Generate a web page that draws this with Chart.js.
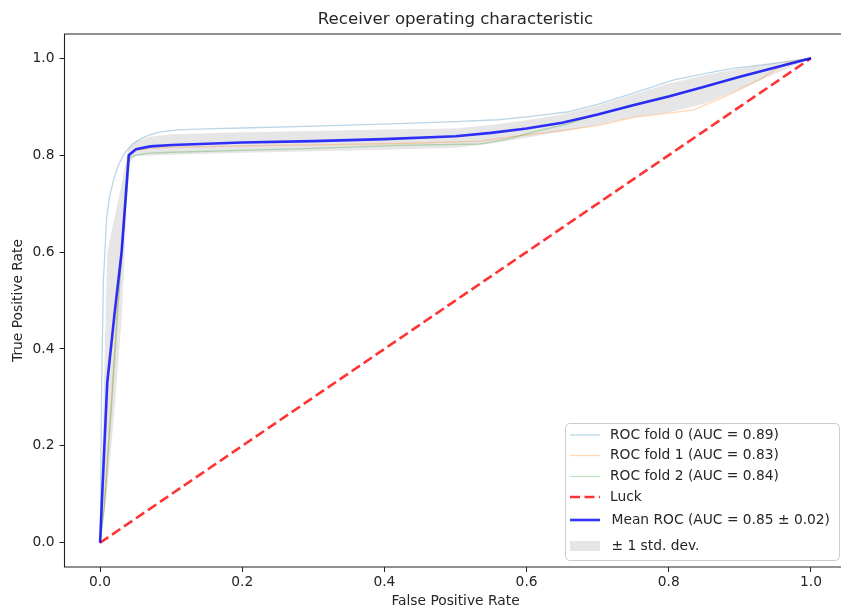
<!DOCTYPE html>
<html>
<head>
<meta charset="utf-8">
<script src="https://cdn.jsdelivr.net/npm/chart.js@4.4.0/dist/chart.umd.min.js"></script>
<style>
  html, body { margin: 0; padding: 0; background: #fff; overflow: hidden; }
  #wrap { width: 841px; height: 609px; overflow: hidden; position: relative; }
  #roc-chart { position: absolute; left: 0; top: 0; }
</style>
</head>
<body>
<div id="wrap"><canvas id="roc-chart" width="850" height="609"></canvas></div>
<script>
// tick labels
const tickValues = [0, 0.2, 0.4, 0.6, 0.8, 1.0];

// per fold ROC curves
const fold0Fpr = [0, 0.001, 0.002, 0.0047, 0.0094, 0.0135, 0.019, 0.026, 0.035, 0.045, 0.056, 0.07, 0.085, 0.108, 0.15, 0.2, 0.3, 0.42, 0.5, 0.56, 0.6, 0.657, 0.7, 0.75, 0.806, 0.85, 0.89, 0.94, 1];
const fold0Tpr = [0, 0.12, 0.30, 0.54, 0.673, 0.715, 0.749, 0.78, 0.805, 0.822, 0.833, 0.842, 0.848, 0.852, 0.854, 0.856, 0.86, 0.865, 0.869, 0.873, 0.879, 0.889, 0.905, 0.928, 0.955, 0.968, 0.979, 0.988, 1];

const fold1Fpr = [0, 0.006, 0.017, 0.025, 0.033, 0.04, 0.05, 0.07, 0.1, 0.2, 0.3, 0.42, 0.534, 0.6, 0.657, 0.703, 0.75, 0.834, 0.89, 0.93, 0.965, 1];
const fold1Tpr = [0, 0.08, 0.32, 0.5, 0.65, 0.80, 0.81, 0.814, 0.816, 0.819, 0.821, 0.824, 0.829, 0.842, 0.852, 0.862, 0.878, 0.893, 0.928, 0.958, 0.99, 1];

const fold2Fpr = [0, 0.006, 0.017, 0.026, 0.034, 0.042, 0.05, 0.07, 0.1, 0.2, 0.3, 0.42, 0.534, 0.57, 0.61, 0.657, 0.7, 0.75, 0.834, 0.9, 0.95, 1];
const fold2Tpr = [0, 0.07, 0.30, 0.5, 0.66, 0.795, 0.80, 0.804, 0.806, 0.81, 0.814, 0.82, 0.823, 0.832, 0.848, 0.864, 0.884, 0.905, 0.935, 0.962, 0.982, 1];

// mean curve and +/- 1 std band on the common grid
const meanFpr = [0, 0.0101, 0.0202, 0.0303, 0.0404, 0.0505, 0.0707, 0.101, 0.2, 0.3, 0.4, 0.5, 0.55, 0.6, 0.65, 0.7, 0.75, 0.8, 0.85, 0.9, 0.95, 1];
const meanTpr = [0, 0.33, 0.47, 0.60, 0.80, 0.812, 0.818, 0.821, 0.826, 0.829, 0.833, 0.839, 0.846, 0.855, 0.867, 0.884, 0.903, 0.921, 0.941, 0.962, 0.981, 1];
const stdUpper = [0, 0.60, 0.67, 0.74, 0.815, 0.828, 0.838, 0.843, 0.847, 0.850, 0.853, 0.855, 0.862, 0.872, 0.884, 0.902, 0.925, 0.948, 0.965, 0.979, 0.99, 1];
const stdLower = [0, 0.11, 0.27, 0.46, 0.785, 0.798, 0.799, 0.801, 0.805, 0.808, 0.811, 0.815, 0.824, 0.836, 0.849, 0.862, 0.878, 0.888, 0.906, 0.936, 0.968, 1];

const luckFpr = [0, 1];
const luckTpr = [0, 1];

const legendLabels = [
  'ROC fold 0 (AUC = 0.89)',
  'ROC fold 1 (AUC = 0.83)',
  'ROC fold 2 (AUC = 0.84)',
  'Luck',
  'Mean ROC (AUC = 0.85 \u00b1 0.02)',
  '\u00b1 1 std. dev.'
];

const FONT = 'DejaVu Sans';
const TEXT = '#262626';

function pts(xs, ys) {
  return xs.map((x, i) => ({ x: x, y: ys[i] }));
}

function line(data, color, width, extra) {
  return Object.assign({
    data: data,
    borderColor: color,
    borderWidth: width,
    pointRadius: 0,
    tension: 0,
    fill: false
  }, extra || {});
}

// index 0 is drawn on top in Chart.js, so the mean goes first
const datasets = [
  line(pts(meanFpr, meanTpr), 'rgba(0,0,255,0.8)', 2.6),
  line(pts(luckFpr, luckTpr), 'rgba(255,0,0,0.8)', 2.6, { borderDash: [10, 4.5] }),
  line(pts(fold2Fpr, fold2Tpr), 'rgba(44,160,44,0.3)', 1.3),
  line(pts(fold1Fpr, fold1Tpr), 'rgba(255,127,14,0.3)', 1.3),
  line(pts(fold0Fpr, fold0Tpr), 'rgba(31,119,180,0.3)', 1.3),
  line(pts(meanFpr, stdUpper), 'rgba(0,0,0,0)', 0),
  line(pts(meanFpr, stdLower), 'rgba(0,0,0,0)', 0, { fill: '-1', backgroundColor: 'rgba(128,128,128,0.2)' })
];

// which dataset each legend row copies its style from
const legendSource = [4, 3, 2, 1, 0, 6];

// spines: the right one falls outside the window anyway
const frame = {
  id: 'frame',
  afterDatasetsDraw(chart) {
    const a = chart.chartArea;
    const ctx = chart.ctx;
    ctx.save();
    ctx.strokeStyle = '#222';
    ctx.lineWidth = 1.1;
    ctx.beginPath();
    ctx.moveTo(a.right, a.top);
    ctx.lineTo(a.left, a.top);
    ctx.lineTo(a.left, a.bottom);
    ctx.lineTo(a.right, a.bottom);
    ctx.stroke();
    ctx.restore();
  }
};

const legendBox = {
  id: 'legendBox',
  afterDraw(chart) {
    const ctx = chart.ctx;
    const bx = 565.5, by = 423.5, bw = 274, bh = 137;
    ctx.save();
    ctx.fillStyle = 'rgba(255,255,255,0.8)';
    ctx.strokeStyle = '#cccccc';
    ctx.lineWidth = 1;
    ctx.beginPath();
    ctx.roundRect(bx, by, bw, bh, 4);
    ctx.fill();
    ctx.stroke();

    const rowY = [435, 455.5, 476.5, 497, 520, 546];
    ctx.font = '13.8px "' + FONT + '"';
    ctx.textBaseline = 'middle';
    legendLabels.forEach((label, i) => {
      const ds = chart.data.datasets[legendSource[i]];
      const y = rowY[i];
      if (ds.fill) {
        ctx.fillStyle = ds.backgroundColor;
        ctx.fillRect(570, y - 5, 30, 10);
      } else {
        ctx.strokeStyle = ds.borderColor;
        ctx.lineWidth = ds.borderWidth;
        ctx.setLineDash(ds.borderDash || []);
        ctx.beginPath();
        ctx.moveTo(570, y);
        ctx.lineTo(600, y);
        ctx.stroke();
        ctx.setLineDash([]);
      }
      ctx.fillStyle = TEXT;
      ctx.fillText(label, i >= 4 ? 611.5 : 610, y);
    });
    ctx.restore();
  }
};

const ctx = document.getElementById('roc-chart').getContext('2d');
const chart = new Chart(ctx, {
  type: 'line',
  data: { datasets: datasets },
  options: {
    responsive: false,
    animation: false,
    layout: { padding: { left: 0, right: 3.5, top: 0, bottom: 0 } },
    plugins: {
      legend: { display: false },
      tooltip: { enabled: false },
      filler: { drawTime: 'beforeDatasetsDraw' },
      title: {
        display: true,
        fullSize: false,
        text: 'Receiver operating characteristic',
        color: TEXT,
        font: { family: FONT, size: 16.6, weight: 'normal' },
        padding: { top: 10, bottom: 4.08 }
      }
    },
    scales: {
      x: {
        type: 'linear',
        min: -0.05,
        max: 1.05,
        afterBuildTicks: s => { s.ticks = tickValues.map(v => ({ value: v })); },
        afterFit: s => { s.height = 42; },
        grid: { drawOnChartArea: false, drawTicks: true, tickLength: 5, color: '#222', tickWidth: 1 },
        border: { display: false },
        ticks: {
          color: TEXT,
          padding: 1.7,
          maxRotation: 0,
          font: { family: FONT, size: 13.8 },
          callback: v => v.toFixed(1)
        },
        title: {
          display: true,
          text: 'False Positive Rate',
          color: TEXT,
          font: { family: FONT, size: 13.8 },
          padding: { top: 0, bottom: -1 }
        }
      },
      y: {
        type: 'linear',
        min: -0.05,
        max: 1.05,
        afterBuildTicks: s => { s.ticks = tickValues.map(v => ({ value: v })); },
        afterFit: s => { s.width = 64.5; },
        grid: { drawOnChartArea: false, drawTicks: true, tickLength: 5, color: '#222', tickWidth: 1 },
        border: { display: false },
        ticks: {
          color: TEXT,
          padding: 5,
          font: { family: FONT, size: 13.8 },
          callback: v => v.toFixed(1)
        },
        title: {
          display: true,
          text: 'True Positive Rate',
          color: TEXT,
          font: { family: FONT, size: 13.8 },
          padding: { top: 10.5, bottom: 0 }
        }
      }
    }
  },
  plugins: [frame, legendBox]
});
</script>
</body>
</html>
